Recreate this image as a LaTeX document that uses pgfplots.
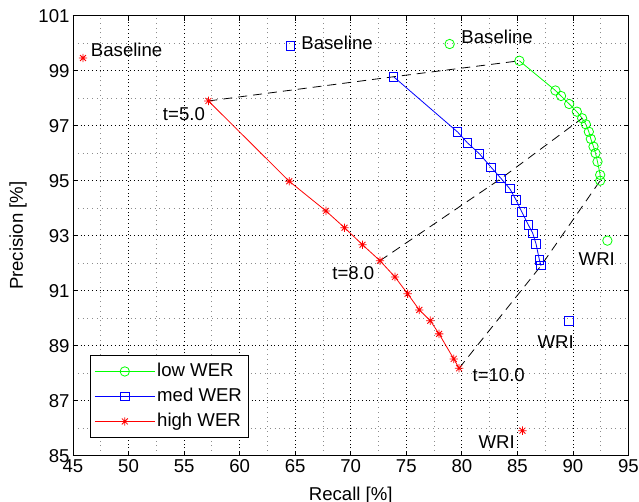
\documentclass[border=0pt]{standalone}
\usepackage{fontspec}
\setmainfont{Liberation Sans}
\usepackage{pgfplots}
\pgfplotsset{compat=1.18}
% MATLAB-like '*' marker: plus and cross together
\pgfdeclareplotmark{mstar}{%
  \pgfpathmoveto{\pgfpoint{-\pgfplotmarksize}{0pt}}\pgfpathlineto{\pgfpoint{\pgfplotmarksize}{0pt}}%
  \pgfpathmoveto{\pgfpoint{0pt}{-\pgfplotmarksize}}\pgfpathlineto{\pgfpoint{0pt}{\pgfplotmarksize}}%
  \pgfpathmoveto{\pgfpoint{-.7071\pgfplotmarksize}{-.7071\pgfplotmarksize}}\pgfpathlineto{\pgfpoint{.7071\pgfplotmarksize}{.7071\pgfplotmarksize}}%
  \pgfpathmoveto{\pgfpoint{-.7071\pgfplotmarksize}{.7071\pgfplotmarksize}}\pgfpathlineto{\pgfpoint{.7071\pgfplotmarksize}{-.7071\pgfplotmarksize}}%
  \pgfusepathqstroke}
\begin{document}
\begin{tikzpicture}[font=\fontsize{18.6bp}{22bp}\selectfont]
\begin{axis}[
  scale only axis, width=555.5bp, height=440bp,
  xmin=45, xmax=95, ymin=85, ymax=101,
  xtick={45,50,...,95}, ytick={85,87,...,101},
  minor x tick num=1, minor y tick num=1,
  grid=both,
  major grid style={black, line width=0.8bp, dash pattern=on 0.8bp off 3bp},
  minor grid style={black!45, line width=0.8bp, dash pattern=on 0.8bp off 4bp},
  axis line style={line width=0.8bp},
  tick style={black, line width=0.8bp},
  major tick length=5bp, minor tick length=0bp,
  /pgf/number format/assume math mode=true,
  xlabel={Recall [\%]}, ylabel={Precision [\%]},
  xlabel style={at={(axis description cs:0.5,-0.1007)}, anchor=base},
  ylabel style={at={(axis description cs:-0.099,0.5)}, anchor=center},
  clip=false,
  legend cell align=left,
  legend style={at={(axis description cs:0.0306,0.041)}, anchor=south west,
    draw=black, line width=0.8bp, fill=white, inner xsep=4bp, inner ysep=3.3bp,
    nodes={text height=13.5bp, text depth=4bp, inner ysep=3.75bp}},
  legend image code/.code={\path (0bp,0bp) -- (60bp,0bp);
    \draw[mark repeat=2,mark phase=2,#1] plot coordinates {(6bp,0bp) (30bp,0bp) (54bp,0bp)};},
]
\coordinate (bl) at (rel axis cs:0,0);
\addplot[green, line width=0.8bp, mark=o, mark size=4.7bp] coordinates {
  (85.18,99.36) (88.42,98.28) (88.93,98.08) (89.66,97.79) (90.35,97.51)
  (90.83,97.27) (91.16,97.05) (91.43,96.78) (91.61,96.52) (91.85,96.24)
  (92.03,96.00) (92.21,95.69) (92.45,95.21) (92.45,95.00)};
\addlegendentry{low WER}
\addplot[blue, line width=0.8bp, mark=square, mark size=4.2bp] coordinates {
  (73.86,98.78) (79.62,96.77) (80.50,96.38) (81.60,95.97) (82.63,95.49)
  (83.53,95.08) (84.31,94.71) (84.88,94.30) (85.39,93.87) (85.99,93.39)
  (86.38,93.09) (86.68,92.70) (86.98,92.12) (87.13,91.91)};
\addlegendentry{med WER}
\addplot[red, line width=0.8bp, mark=mstar, mark size=4.2bp] coordinates {
  (57.19,97.90) (64.46,94.98) (67.77,93.90) (69.44,93.29) (71.06,92.67)
  (72.63,92.09) (73.98,91.50) (75.12,90.89) (76.17,90.30) (77.16,89.91)
  (77.95,89.43) (79.27,88.52) (79.75,88.18)};
\addlegendentry{high WER}
% iso-t lines
\addplot[forget plot, black, line width=0.8bp, dash pattern=on 9bp off 6bp] coordinates {(57.19,97.90) (73.86,98.78) (85.18,99.36)};
\addplot[forget plot, black, line width=0.8bp, dash pattern=on 9bp off 6bp] coordinates {(72.63,92.09) (83.53,95.08) (90.83,97.27)};
\addplot[forget plot, black, line width=0.8bp, dash pattern=on 9bp off 6bp] coordinates {(79.75,88.18) (87.13,91.91) (92.45,95.00)};
% baseline and WRI points
\addplot[forget plot, only marks, green, line width=0.8bp, mark=o, mark size=4.7bp] coordinates {(78.9,99.97) (93.1,92.82)};
\addplot[forget plot, only marks, blue, line width=0.8bp, mark=square, mark size=4.2bp] coordinates {(64.55,99.9) (89.65,89.9)};
\addplot[forget plot, only marks, red, line width=0.8bp, mark=mstar, mark size=4.2bp] coordinates {(45.9,99.46) (85.45,85.91)};
\node[anchor=west, inner sep=0pt] at (axis cs:46.6,99.75) {Baseline};
\node[anchor=west, inner sep=0pt] at (axis cs:65.54,100.0) {Baseline};
\node[anchor=west, inner sep=0pt] at (axis cs:79.95,100.23) {Baseline};
\node[anchor=west, inner sep=0pt] at (axis cs:53.08,97.44) {t=5.0};
\node[anchor=west, inner sep=0pt] at (axis cs:68.33,91.64) {t=8.0};
\node[anchor=west, inner sep=0pt] at (axis cs:80.95,87.93) {t=10.0};
\node[anchor=west, inner sep=0pt] at (axis cs:90.5,92.15) {WRI};
\node[anchor=west, inner sep=0pt] at (axis cs:86.8,89.13) {WRI};
\node[anchor=west, inner sep=0pt] at (axis cs:81.49,85.5) {WRI};
\end{axis}
\pgfresetboundingbox
\path[use as bounding box] ([shift={(-73bp,-46.3bp)}]bl) rectangle ([shift={(566bp,455.7bp)}]bl);
\end{tikzpicture}
\end{document}
